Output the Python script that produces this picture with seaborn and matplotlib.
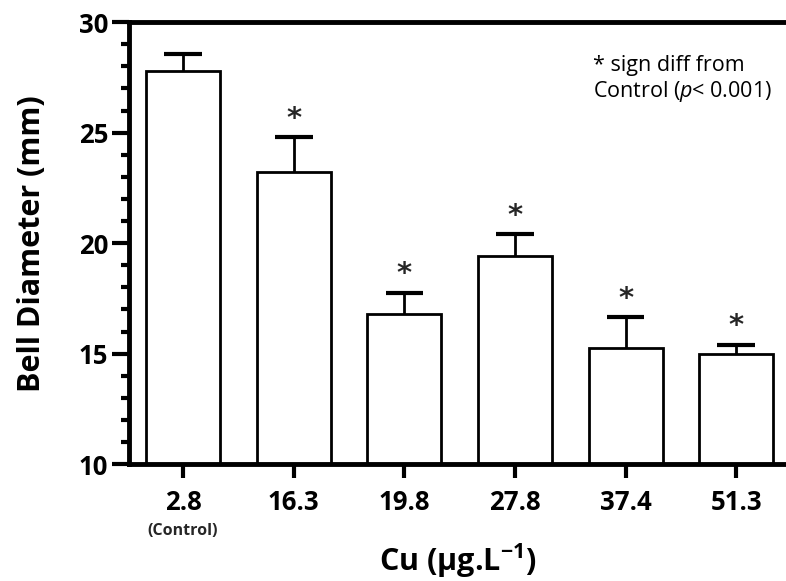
import matplotlib
matplotlib.use("Agg")
import matplotlib.pyplot as plt
import seaborn as sns
import pandas as pd
import numpy as np
from matplotlib.ticker import MultipleLocator

categories = ["2.8", "16.3", "19.8", "27.8", "37.4", "51.3"]
means = [27.8, 23.2, 16.8, 19.4, 15.25, 15.0]
errors = [0.75, 1.6, 0.95, 1.0, 1.4, 0.4]
signif = [False, True, True, True, True, True]

df = pd.DataFrame({"Cu": categories, "Diameter": means})

sns.set_style("ticks")
FONT = "Open Sans"
plt.rcParams["font.family"] = [FONT, "DejaVu Sans"]
plt.rcParams["mathtext.fontset"] = "custom"
plt.rcParams["mathtext.rm"] = FONT
plt.rcParams["mathtext.it"] = FONT + ":italic"
plt.rcParams["mathtext.bf"] = FONT + ":bold"

fig = plt.figure(figsize=(7.86, 5.81), dpi=100)
ax = fig.add_axes([0.164, 0.201, 0.836, 0.761])

sns.barplot(data=df, x="Cu", y="Diameter", ax=ax, color="white",
            edgecolor="black", linewidth=2, width=0.67, errorbar=None)
ax.errorbar(np.arange(len(categories)), means,
            yerr=[np.zeros(len(errors)), errors], fmt="none",
            ecolor="black", elinewidth=2, capsize=0)
for i, (m, e) in enumerate(zip(means, errors)):
    ax.plot([i - 0.17, i + 0.17], [m + e, m + e], color="black", lw=3,
            solid_capstyle="butt")
    if signif[i]:
        ax.text(i, m + e + 0.2, "*", ha="center", va="bottom",
                fontsize=21, fontweight="bold", family="DejaVu Sans")

ax.set_ylim(10, 30)
ax.set_xlim(-0.49, 5.45)
ax.yaxis.set_major_locator(MultipleLocator(5))
ax.yaxis.set_minor_locator(MultipleLocator(1))
ax.tick_params(axis="y", which="major", length=12, width=3, labelsize=18.5,
               pad=3, color="black", labelcolor="black")
ax.tick_params(axis="y", which="minor", length=6, width=3, color="black")
ax.tick_params(axis="x", which="major", length=10, width=3, labelsize=18.5,
               pad=8, color="black", labelcolor="black")
for lab in ax.get_xticklabels() + ax.get_yticklabels():
    lab.set_fontweight("bold")

for side in ["left", "bottom", "top"]:
    ax.spines[side].set_linewidth(3.5)
    ax.spines[side].set_color("black")
ax.spines["right"].set_visible(False)

ax.set_ylabel("Bell Diameter (mm)", fontsize=22, fontweight="bold",
              color="black", va="center")
ax.yaxis.set_label_coords(-0.148, 0.5)
ax.set_xlabel("Cu (μg.L$^{\\mathbf{-1}}$)", fontsize=22,
              fontweight="bold", color="black", va="center")
ax.xaxis.set_label_coords(0.5, -0.218)

ax.text(0, -0.151, "(Control)", transform=ax.get_xaxis_transform(),
        ha="center", va="center", fontsize=11.5, fontweight="bold")

ax.text(0.706, 0.925, "* sign diff from\nControl ($\\mathit{p}$< 0.001)",
        transform=ax.transAxes, ha="left", va="top", fontsize=15.5,
        linespacing=1.15, color="black")

fig.savefig("out.png", dpi=100)
